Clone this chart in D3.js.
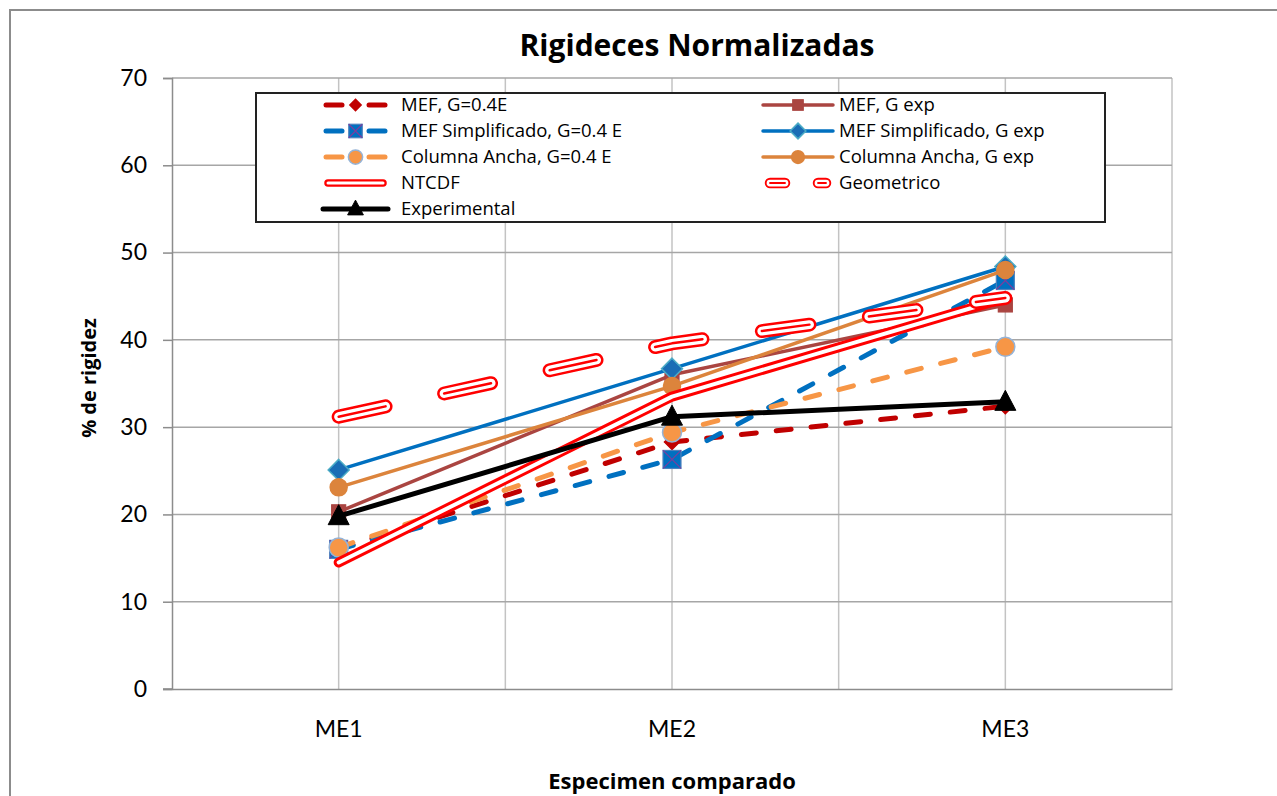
<!DOCTYPE html>
<html>
<head>
<meta charset="utf-8">
<script src="https://cdn.jsdelivr.net/npm/d3@7"></script>
<style>
  body { margin: 0; background: #fff; }
  text { font-family: "Open Sans", Lato, sans-serif; fill: #000; }
</style>
</head>
<body>
<svg id="chart" width="1277" height="796"></svg>
<script>
// ---- data ----
const categories = ["ME1", "ME2", "ME3"];
const yTickValues = [0, 10, 20, 30, 40, 50, 60, 70];

const mefG04        = [16.0, 28.3, 32.4];
const mefGexp       = [20.3, 36.0, 44.0];
const mefSimpG04    = [16.0, 26.3, 46.8];
const mefSimpGexp   = [25.1, 36.7, 48.4];
const colAnchaG04   = [16.2, 29.4, 39.2];
const colAnchaGexp  = [23.1, 34.7, 48.0];
const ntcdf         = [14.5, 33.5, 44.8];
const geometrico    = [31.2, 39.6, 44.8];
const experimental  = [19.8, 31.2, 32.9];

const seriesNames = [
  "MEF, G=0.4E", "MEF, G exp",
  "MEF Simplificado, G=0.4 E", "MEF Simplificado, G exp",
  "Columna Ancha, G=0.4 E", "Columna Ancha, G exp",
  "NTCDF", "Geometrico", "Experimental"
];
const seriesValues = [mefG04, mefGexp, mefSimpG04, mefSimpGexp,
  colAnchaG04, colAnchaGexp, ntcdf, geometrico, experimental];

// ---- styles ----
const styles = [
  { strokes: [{ c: "#C00000", w: 5 }], dash: "15 20", marker: "diamond", ms: 15, fill: "#C00000" },
  { strokes: [{ c: "#AA4541", w: 3.5 }], marker: "square", ms: 14, fill: "#AA4541" },
  { strokes: [{ c: "#0070C0", w: 5 }], dash: "15 20", marker: "squareX", ms: 18, fill: "#0070C0", mstroke: "#4F81BD" },
  { strokes: [{ c: "#0070C0", w: 3.5 }], marker: "diamond", ms: 21, fill: "#1A6DB5", mstroke: "#4BACC6" },
  { strokes: [{ c: "#F79646", w: 5 }], dash: "15 20", marker: "circle", ms: 19, fill: "#F79646", mstroke: "#95B3D7" },
  { strokes: [{ c: "#DC843C", w: 3.5 }], marker: "circle", ms: 17, fill: "#DC843C" },
  { strokes: [{ c: "#FF0000", w: 10 }, { c: "#FFFFFF", w: 4 }] },
  { strokes: [{ c: "#FF0000", w: 14 }, { c: "#FFFFFF", w: 9 }, { c: "#FF0000", w: 2.5 }], dash: "48 60" },
  { strokes: [{ c: "#000000", w: 5 }], marker: "triangle", ms: 21, fill: "#000000" }
];

// ---- layout ----
const svg = d3.select("#chart");
const plot = { left: 172, right: 1172, top: 78, bottom: 689 };

const x = d3.scaleBand().domain(categories).range([plot.left, plot.right]).padding(0);
const y = d3.scaleLinear().domain([0, 70]).range([plot.bottom, plot.top]);
const cx = c => x(c) + x.bandwidth() / 2;

// outer chart frame
svg.append("path")
  .attr("d", `M10,800 L10,10 L1290,10`)
  .attr("fill", "none").attr("stroke", "#8C8C8C").attr("stroke-width", 2);

// vertical gridlines at band edges and centres
const vLines = [];
categories.forEach(c => { vLines.push(x(c)); vLines.push(cx(c)); });
vLines.push(plot.right);
svg.append("g").selectAll("line").data(vLines.slice(1)).join("line")
  .attr("x1", d => d).attr("x2", d => d)
  .attr("y1", plot.top).attr("y2", plot.bottom)
  .attr("stroke", "#C3C3C3").attr("stroke-width", 1.5);

// horizontal gridlines
svg.append("g").selectAll("line").data(yTickValues.slice(1)).join("line")
  .attr("x1", plot.left).attr("x2", plot.right)
  .attr("y1", d => y(d)).attr("y2", d => y(d))
  .attr("stroke", "#A6A6A6").attr("stroke-width", 1.5);

// y axis
const yAxis = d3.axisLeft(y).tickValues(yTickValues).tickSize(9).tickPadding(16).tickFormat(d3.format("d"));
const yg = svg.append("g").attr("transform", `translate(${plot.left},0)`).call(yAxis);
yg.select(".domain").attr("stroke", "#8C8C8C").attr("stroke-width", 1.5);
yg.selectAll(".tick line").attr("stroke", "#8C8C8C").attr("stroke-width", 1.5);
yg.selectAll(".tick text").style("font-family", "Lato, sans-serif").style("font-size", "23px").attr("fill", "#000");

// x axis
const xAxis = d3.axisBottom(x).tickSize(0).tickPadding(32);
const xg = svg.append("g").attr("transform", `translate(0,${plot.bottom})`).call(xAxis);
xg.select(".domain").attr("stroke", "#8C8C8C").attr("stroke-width", 1.5);
xg.selectAll(".tick text").style("font-family", "Lato, sans-serif").style("font-size", "23px").attr("fill", "#000");
svg.append("line").attr("x1", plot.left - 9).attr("x2", plot.left)
  .attr("y1", plot.bottom).attr("y2", plot.bottom).attr("stroke", "#8C8C8C").attr("stroke-width", 1.5);

// titles
svg.append("text").attr("x", 697).attr("y", 56).attr("text-anchor", "middle")
  .style("font-size", "30px").style("font-weight", "bold").text("Rigideces Normalizadas");
svg.append("text").attr("transform", "translate(96,378) rotate(-90)").attr("text-anchor", "middle")
  .style("font-size", "20px").style("font-weight", "bold").text("% de rigidez");
svg.append("text").attr("x", 672).attr("y", 789).attr("text-anchor", "middle")
  .style("font-size", "22px").style("font-weight", "bold").text("Especimen comparado");

// ---- markers ----
function drawMarker(g, kind, px, py, s, st) {
  const h = s / 2;
  const stroke = st.mstroke || st.fill;
  if (kind === "diamond") {
    g.append("path").attr("d", `M${px},${py - h} L${px + h},${py} L${px},${py + h} L${px - h},${py} Z`)
      .attr("fill", st.fill).attr("stroke", stroke).attr("stroke-width", 1.5);
  } else if (kind === "square" || kind === "squareX") {
    g.append("rect").attr("x", px - h).attr("y", py - h).attr("width", s).attr("height", s)
      .attr("fill", st.fill).attr("stroke", stroke).attr("stroke-width", 1.2);
    if (kind === "squareX") {
      g.append("path").attr("d", `M${px - h},${py - h} L${px + h},${py + h} M${px + h},${py - h} L${px - h},${py + h}`)
        .attr("stroke", "#7A3E9D").attr("stroke-width", 1.2);
    }
  } else if (kind === "circle") {
    g.append("circle").attr("cx", px).attr("cy", py).attr("r", h)
      .attr("fill", st.fill).attr("stroke", stroke).attr("stroke-width", 1.5);
  } else if (kind === "triangle") {
    g.append("path").attr("d", `M${px},${py - h - 1} L${px + h},${py + h - 2} L${px - h},${py + h - 2} Z`)
      .attr("fill", st.fill).attr("stroke", stroke).attr("stroke-width", 1);
  }
}

// ---- series ----
const line = d3.line().x(d => cx(d.cat)).y(d => y(d.v));
seriesValues.forEach((vals, i) => {
  const st = styles[i];
  const pts = vals.map((v, k) => ({ cat: categories[k], v }));
  const g = svg.append("g").attr("class", "series");
  st.strokes.forEach(s => {
    g.append("path").datum(pts).attr("d", line)
      .attr("fill", "none").attr("stroke", s.c).attr("stroke-width", s.w)
      .attr("stroke-linecap", "round").attr("stroke-linejoin", "round")
      .attr("stroke-dasharray", st.dash || null);
  });
  if (st.marker) pts.forEach(p => drawMarker(g, st.marker, cx(p.cat), y(p.v), st.ms, st));
});

// ---- legend ----
const lg = svg.append("g");
lg.append("rect").attr("x", 256).attr("y", 93).attr("width", 849).attr("height", 129)
  .attr("fill", "#fff").attr("stroke", "#222").attr("stroke-width", 2);

const legendCols = [{ x0: 323, x1: 388, tx: 401 }, { x0: 763, x1: 833, tx: 839 }];
const legendRowY = r => 105 + r * 26;
const legendMarkerScale = 0.75;

seriesNames.forEach((name, i) => {
  const st = styles[i];
  const col = legendCols[i % 2];
  const ry = legendRowY(Math.floor(i / 2));
  const mid = (col.x0 + col.x1) / 2;
  let segs;
  if (st.dash && name === "Geometrico") segs = [[col.x0 + 7, col.x0 + 22], [col.x1 - 15, col.x1 - 7]];
  else if (st.dash) segs = [[col.x0 + 3, col.x0 + 19], [col.x1 - 19, col.x1 - 3]];
  else segs = [[col.x0 + (st.strokes[0].w > 8 ? 5 : 0), col.x1 - (st.strokes[0].w > 8 ? 5 : 0)]];
  segs.forEach(([a, b]) => {
    st.strokes.forEach(s => {
      lg.append("line").attr("x1", a).attr("x2", b).attr("y1", ry).attr("y2", ry)
        .attr("stroke", s.c).attr("stroke-width", name === "Geometrico" || name === "NTCDF" ? s.w * 0.75 : s.w)
        .attr("stroke-linecap", "round");
    });
  });
  if (st.marker) drawMarker(lg, st.marker, mid, ry, st.ms * legendMarkerScale, st);
  lg.append("text").attr("x", col.tx).attr("y", ry).attr("dy", "0.35em")
    .style("font-size", "18.5px").text(name);
});
</script>
</body>
</html>
